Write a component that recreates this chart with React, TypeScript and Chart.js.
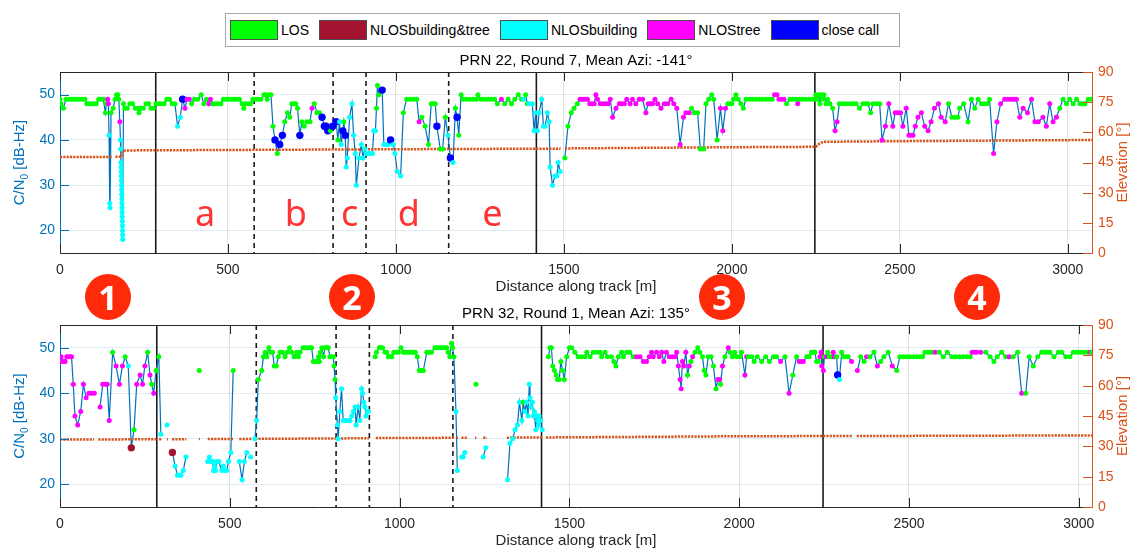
import React, { useEffect, useRef } from 'react';
import { Chart, registerables } from 'chart.js';

Chart.register(...registerables);

type Pt = [number, number | null, string];
type EPt = [number, number | null];

const FONT = "'Liberation Sans', Arial, Helvetica, sans-serif";
const BLUE = '#0072BD';
const ORANGE = '#D95319';

// ---- categories ----
const classCodes = ['L', 'R', 'B', 'T', 'C'];
const classNames = ['LOS', 'NLOSbuilding&tree', 'NLOSbuilding', 'NLOStree', 'close call'];
const classColors = ['#00FF00', '#A2142F', '#00FFFF', '#FF00FF', '#0000FF'];

// ---- ticks ----
const xTickValues = [0, 500, 1000, 1500, 2000, 2500, 3000];
const cn0TickValues = [20, 30, 40, 50];
const elevTickValues = [0, 15, 30, 45, 60, 75, 90];

// ---- track segment boundaries (m) ----
const solidBounds = [285, 1418, 2247];
const dashedBounds = [578, 813, 911, 1157];
const segmentLetters = ['a', 'b', 'c', 'd', 'e'];
const segmentLetterDist = [432, 702, 862, 1038, 1287];
const zoneNumbers = ['1', '2', '3', '4'];

const prn22Title = 'PRN 22, Round 7, Mean Azi: -141°';
const prn32Title = 'PRN 32, Round 1, Mean Azi: 135°';

// ---- PRN 22: distance [m], C/N0 [dB-Hz], class ----
const prn22Cn0: Pt[] = [
  [0,49,'L'],[3,48,'L'],[10,47,'L'],[18,49,'L'],[26,49,'L'],[34,49,'L'],[42,49,'L'],[50,49,'L'],[58,49,'L'],[66,49,'L'],[74,49,'L'],
  [80,48,'L'],[87,48,'L'],[94,48,'L'],[101,48,'L'],[108,48,'L'],[115,49,'L'],[122,49,'L'],[129,49,'L'],[135,46,'L'],[138,48,'L'],
  [142,49,'T'],[144,48,'T'],[146,41,'B'],[148,26,'B'],[149,25,'B'],[152,46,'L'],[158,47,'L'],[164,49,'L'],[168,50,'L'],[172,50,'L'],
  [175,49,'L'],[178,44,'T'],[180,40,'B'],[181,38,'B'],[181.5,35,'B'],[182,34,'B'],[182.3,33,'B'],[182.6,32,'B'],[182.9,31,'B'],
  [183.2,30,'B'],[183.5,29,'B'],[183.8,28,'B'],[184.1,27,'B'],[184.4,26,'B'],[184.7,25,'B'],[185,24,'B'],[185.3,23,'B'],
  [185.6,22,'B'],[185.9,21,'B'],[186.2,20,'B'],[186.5,19,'B'],[186.8,18,'B'],[189,48,'L'],[193,47,'L'],[200,47,'L'],[208,48,'L'],
  [216,48,'L'],[224,47,'L'],[231,47,'L'],[235,46,'L'],[240,47,'L'],[248,47,'L'],[256,48,'L'],[264,48,'L'],[271,47,'L'],[278,47,'L'],
  [286,48,'L'],[294,48,'L'],[302,48,'L'],[310,48,'L'],[318,49,'L'],[326,49,'L'],[334,48,'L'],[342,48,'L'],[350,43,'B'],[358,45,'B'],
  [365,49,'C'],[372,47,'T'],[378,49,'T'],[385,49,'T'],[392,48,'L'],[400,49,'L'],[410,49,'L'],[420,50,'L'],[428,48,'L'],[436,49,'L'],
  [443,48,'T'],[448,49,'T'],[455,48,'L'],[463,48,'L'],[471,48,'L'],[479,48,'L'],[486,49,'L'],[494,49,'L'],[502,49,'L'],[510,49,'L'],
  [518,49,'L'],[526,49,'L'],[534,49,'L'],[542,48,'L'],[547,47,'L'],[552,48,'L'],[560,48,'L'],[567,48,'L'],[574,49,'L'],[582,49,'L'],
  [590,49,'L'],[598,49,'L'],[607,50,'L'],[612,50,'L'],[617,49,'L'],[622,50,'L'],[628,50,'L'],[634,43,'L'],[640,40,'C'],[647,37,'L'],
  [654,39,'C'],[662,41,'C'],[669,44,'L'],[677,46,'L'],[684,45,'L'],[690,48,'L'],[696,48,'L'],[702,48,'L'],[707,47,'L'],[714,41,'C'],
  [720,44,'L'],[727,43,'L'],[735,44,'L'],[744,44,'L'],[750,47,'T'],[757,48,'L'],[765,46,'L'],[772,46,'L'],[780,45,'C'],[787,43,'C'],
  [792,43,'C'],[797,42,'C'],[805,42,'L'],[812,43,'C'],[822,44,'C'],[827,40,'L'],[832,44,'B'],[837,39,'B'],[842,42,'C'],[845,44,'L'],
  [849,41,'C'],[852,34,'B'],[855,36,'B'],[862,45,'B'],[869,48,'B'],[874,41,'B'],[879,37,'B'],[882,30,'B'],[890,36,'B'],[897,39,'B'],
  [902,36,'B'],[907,38,'B'],[912,37,'B'],[918,37,'B'],[924,37,'B'],[930,37,'B'],[934,42,'B'],[939,42,'B'],[942,47,'L'],[945,52,'L'],
  [949,50,'L'],[959,51,'C'],[964,39,'B'],[972,39,'B'],[977,39,'B'],[984,40,'C'],[992,39,'B'],[997,37,'B'],[1004,33,'B'],[1014,32,'B'],
  [1022,46,'L'],[1032,49,'L'],[1042,49,'L'],[1052,49,'L'],[1062,49,'L'],[1069,44,'T'],[1077,45,'L'],[1087,43,'L'],[1097,39,'L'],
  [1105,48,'L'],[1111,48,'L'],[1117,48,'L'],[1122,43,'C'],[1132,38,'L'],[1139,38,'L'],[1147,45,'L'],[1155,41,'B'],[1162,36,'C'],
  [1170,35,'B'],[1177,47,'L'],[1182,45,'C'],[1187,41,'L'],[1194,50,'L'],[1200,49,'L'],[1210,49,'L'],[1220,49,'L'],[1230,49,'L'],
  [1240,49,'L'],[1244,50,'L'],[1254,49,'L'],[1264,49,'L'],[1274,49,'L'],[1284,49,'L'],[1294,49,'L'],[1302,48,'L'],[1314,49,'T'],
  [1324,48,'L'],[1334,49,'L'],[1344,48,'L'],[1354,49,'L'],[1364,50,'L'],[1374,49,'L'],[1380,49,'B'],[1386,50,'L'],[1391,48,'L'],
  [1396,48,'B'],[1406,48,'B'],[1411,42,'B'],[1416,46,'B'],[1421,42,'B'],[1426,46,'B'],[1434,49,'B'],[1439,43,'B'],[1444,43,'B'],
  [1451,46,'B'],[1456,44,'B'],[1459,34,'B'],[1466,30,'B'],[1473,32,'B'],[1479,32,'B'],[1483,35,'B'],[1489,33,'B'],[1496,null,''],
  [1503,36,'L'],[1512,43,'L'],[1522,46,'L'],[1530,47,'L'],[1540,48,'L'],[1548,49,'T'],[1555,49,'T'],[1562,49,'T'],[1570,49,'T'],
  [1577,48,'T'],[1584,48,'T'],[1590,48,'T'],[1595,50,'T'],[1600,49,'T'],[1608,48,'T'],[1616,48,'T'],[1624,48,'T'],[1632,48,'T'],
  [1638,49,'T'],[1645,45,'T'],[1655,47,'T'],[1665,48,'T'],[1672,48,'T'],[1680,48,'T'],[1687,49,'T'],[1697,48,'T'],[1704,49,'T'],
  [1714,48,'T'],[1724,49,'T'],[1734,49,'T'],[1744,46,'T'],[1751,48,'T'],[1758,48,'T'],[1764,48,'T'],[1771,49,'T'],[1779,48,'T'],
  [1789,47,'T'],[1799,48,'T'],[1809,48,'T'],[1819,49,'T'],[1827,48,'T'],[1836,47,'T'],[1846,39,'T'],[1856,45,'T'],[1863,46,'T'],
  [1873,46,'T'],[1880,47,'L'],[1888,46,'L'],[1898,46,'L'],[1906,38,'L'],[1916,38,'L'],[1923,48,'L'],[1931,49,'L'],[1940,50,'L'],
  [1946,49,'L'],[1956,40,'L'],[1966,47,'T'],[1973,42,'T'],[1981,47,'T'],[1988,48,'L'],[1994,48,'L'],[2000,48,'L'],[2005,49,'L'],
  [2012,50,'L'],[2019,49,'L'],[2027,48,'L'],[2034,47,'L'],[2042,49,'L'],[2052,49,'L'],[2062,49,'L'],[2072,49,'L'],[2082,49,'L'],
  [2092,49,'L'],[2102,49,'L'],[2112,49,'L'],[2120,49,'L'],[2127,50,'T'],[2134,50,'T'],[2140,49,'T'],[2147,49,'T'],[2155,49,'T'],
  [2163,48,'L'],[2173,49,'L'],[2182,49,'L'],[2191,49,'L'],[2196,48,'T'],[2201,49,'L'],[2210,49,'L'],[2220,49,'L'],[2230,49,'L'],
  [2240,49,'L'],[2246,49,'L'],[2250,50,'L'],[2254,49,'L'],[2258,50,'L'],[2262,48,'L'],[2266,50,'L'],[2270,49,'L'],[2274,50,'L'],
  [2280,48,'L'],[2285,49,'L'],[2292,48,'L'],[2300,47,'L'],[2307,42,'T'],[2313,44,'T'],[2320,48,'L'],[2330,48,'L'],[2340,48,'L'],
  [2350,48,'L'],[2360,48,'L'],[2370,48,'L'],[2380,47,'L'],[2390,48,'L'],[2398,48,'L'],[2405,48,'L'],[2413,46,'L'],[2420,48,'L'],
  [2430,48,'L'],[2440,48,'L'],[2447,40,'T'],[2457,43,'T'],[2467,48,'T'],[2479,43,'T'],[2486,46,'T'],[2494,46,'T'],[2502,46,'T'],
  [2509,43,'T'],[2519,47,'T'],[2527,41,'T'],[2533,41,'T'],[2539,41,'T'],[2546,43,'T'],[2554,45,'T'],[2564,46,'T'],[2574,43,'T'],
  [2584,42,'T'],[2593,44,'T'],[2603,47,'T'],[2615,48,'T'],[2623,45,'T'],[2635,44,'T'],[2645,48,'L'],[2655,45,'L'],[2664,45,'L'],
  [2673,45,'L'],[2678,47,'L'],[2690,48,'L'],[2703,44,'L'],[2713,49,'L'],[2723,47,'L'],[2733,49,'L'],[2743,48,'L'],[2752,48,'L'],
  [2760,48,'L'],[2767,49,'L'],[2779,37,'T'],[2789,44,'T'],[2800,48,'T'],[2812,49,'T'],[2822,49,'T'],[2832,49,'T'],[2840,49,'T'],
  [2847,49,'T'],[2857,45,'T'],[2867,47,'T'],[2880,46,'T'],[2892,49,'T'],[2902,44,'T'],[2912,44,'T'],[2926,45,'T'],[2936,43,'T'],
  [2946,48,'T'],[2956,44,'T'],[2966,45,'T'],[2976,47,'L'],[2986,49,'L'],[2996,48,'L'],[3006,49,'L'],[3016,48,'L'],[3026,49,'L'],
  [3036,48,'L'],[3044,48,'L'],[3051,48,'L'],[3061,49,'L'],[3071,49,'L'],
];

// ---- PRN 22 elevation [deg] ----
const prn22Elev: EPt[] = [
  [0,47.7],[155,47.8],[160,null],[165,47.8],[184,47.9],[188,51.0],[600,51.3],[1000,51.6],[1490,51.9],[1496,null],
  [1503,52.0],[2000,52.6],[2250,52.8],[2260,54.3],[2272,55.3],[2500,55.6],[3072,56.2],
];

// ---- PRN 32: distance [m], C/N0 [dB-Hz], class ----
const prn32Cn0: Pt[] = [
  [3,48,'T'],[7,47,'T'],[10,47,'T'],[15,47,'T'],[20,48,'T'],[25,48,'T'],[30,48,'T'],[34,48,'T'],[39,42,'T'],[44,35,'T'],[52,33,'T'],
  [61,36,'T'],[69,42,'T'],[77,39,'T'],[85,40,'T'],[93,40,'T'],[101,40,'T'],[110,null,''],[118,37,'T'],[126,42,'T'],[133,42,'T'],
  [139,42,'T'],[145,34,'T'],[155,49,'L'],[165,46,'T'],[175,42,'T'],[184,46,'T'],[192,48,'L'],[201,46,'B'],[210,28,'R'],[218,32,'L'],
  [226,42,'T'],[236,44,'T'],[243,42,'T'],[250,46,'T'],[258,49,'L'],[265,44,'T'],[270,42,'L'],[276,40,'T'],[283,45,'L'],[291,48,'L'],
  [297,31,'B'],[305,null,''],[315,33,'B'],[323,null,''],[331,27,'R'],[339,24,'B'],[346,22,'B'],[352,22,'B'],[356,22,'B'],[363,23,'B'],
  [371,26,'B'],[390,null,''],[410,45,'L'],[420,null,''],[435,25,'B'],[440,26,'B'],[445,25,'B'],[450,25,'B'],[452,23,'B'],[455,24,'B'],
  [458,23,'B'],[462,25,'B'],[468,25,'B'],[476,23,'B'],[481,24,'B'],[486,23,'B'],[491,23,'B'],[496,25,'B'],[503,27,'B'],[510,45,'L'],
  [518,null,''],[528,25,'B'],[536,21,'B'],[543,25,'B'],[550,27,'B'],[555,null,''],[561,26,'B'],[568,null,''],[574,30,'B'],[579,34,'B'],
  [584,43,'L'],[594,45,'L'],[599,48,'L'],[604,49,'L'],[609,48,'L'],[615,50,'L'],[621,49,'L'],[626,49,'L'],[631,46,'L'],[637,46,'L'],
  [643,48,'L'],[648,49,'L'],[655,49,'L'],[663,48,'L'],[669,49,'L'],[676,50,'L'],[682,49,'L'],[690,48,'L'],[697,49,'L'],[702,48,'L'],
  [707,49,'L'],[716,50,'L'],[722,50,'L'],[729,50,'L'],[735,50,'L'],[741,50,'L'],[746,47,'L'],[751,47,'L'],[756,47,'L'],[761,48,'L'],
  [764,47,'L'],[767,49,'L'],[771,50,'L'],[776,48,'L'],[780,50,'L'],[785,50,'L'],[790,50,'L'],[795,48,'L'],[801,48,'L'],[805,48,'L'],
  [807,46,'L'],[810,43,'L'],[812,39,'B'],[817,33,'B'],[819,30,'B'],[824,36,'B'],[829,41,'B'],[834,34,'B'],[839,34,'B'],[844,34,'B'],
  [849,34,'B'],[854,34,'B'],[859,35,'B'],[864,36,'B'],[869,37,'B'],[872,33,'B'],[878,37,'B'],[883,34,'B'],[888,41,'B'],[891,40,'B'],
  [895,38,'B'],[898,37,'B'],[901,35,'B'],[905,36,'B'],[908,36,'B'],[916,null,''],[928,48,'L'],[932,49,'L'],[940,50,'L'],[945,50,'L'],
  [950,50,'L'],[957,49,'L'],[962,49,'L'],[967,48,'L'],[972,48,'L'],[977,48,'L'],[983,49,'L'],[989,49,'L'],[996,49,'L'],[1004,50,'L'],
  [1011,49,'L'],[1018,49,'L'],[1025,49,'L'],[1032,49,'L'],[1040,49,'L'],[1046,49,'L'],[1052,48,'L'],[1058,45,'L'],[1064,45,'L'],
  [1070,45,'L'],[1080,49,'L'],[1087,49,'L'],[1094,49,'L'],[1104,50,'L'],[1110,50,'L'],[1116,50,'L'],[1122,50,'L'],[1128,50,'L'],
  [1134,50,'L'],[1139,50,'L'],[1143,49,'L'],[1148,48,'L'],[1153,51,'L'],[1156,50,'L'],[1160,48,'L'],[1166,36,'B'],[1170,23,'B'],
  [1176,null,''],[1183,26,'B'],[1187,26,'B'],[1192,27,'B'],[1200,null,''],[1225,42,'L'],[1235,null,''],[1246,26,'B'],[1254,28,'B'],
  [1290,null,''],[1318,21,'B'],[1325,29,'B'],[1333,30,'B'],[1340,32,'B'],[1347,33,'B'],[1353,38,'B'],[1360,34,'B'],[1364,38,'L'],
  [1369,36,'B'],[1374,38,'B'],[1378,35,'B'],[1382,42,'B'],[1384,39,'B'],[1387,37,'B'],[1391,38,'B'],[1394,35,'B'],[1397,36,'B'],
  [1401,32,'B'],[1404,35,'B'],[1407,34,'B'],[1409,33,'B'],[1411,35,'B'],[1415,34,'B'],[1420,32,'B'],[1428,null,''],[1438,48,'L'],
  [1443,50,'L'],[1447,50,'L'],[1451,46,'L'],[1456,45,'L'],[1461,44,'L'],[1465,43,'L'],[1470,43,'L'],[1475,47,'L'],[1480,45,'L'],
  [1485,43,'L'],[1492,48,'L'],[1500,50,'L'],[1507,50,'L'],[1516,49,'L'],[1526,48,'L'],[1536,48,'L'],[1546,48,'L'],[1551,49,'L'],
  [1561,48,'L'],[1570,49,'L'],[1580,49,'L'],[1590,49,'L'],[1595,48,'L'],[1605,49,'L'],[1612,48,'L'],[1624,48,'L'],[1631,47,'L'],
  [1637,46,'L'],[1644,48,'L'],[1654,49,'L'],[1659,48,'L'],[1669,49,'L'],[1678,49,'L'],[1688,48,'L'],[1698,48,'T'],[1708,48,'T'],
  [1718,47,'T'],[1727,47,'T'],[1735,48,'T'],[1742,49,'T'],[1747,48,'T'],[1757,49,'T'],[1765,48,'T'],[1772,49,'T'],[1778,47,'T'],
  [1786,49,'T'],[1794,48,'T'],[1803,48,'T'],[1811,48,'T'],[1816,49,'T'],[1821,46,'T'],[1826,43,'T'],[1829,41,'T'],[1833,47,'T'],
  [1837,46,'T'],[1843,49,'T'],[1848,44,'L'],[1853,46,'T'],[1858,47,'L'],[1863,48,'T'],[1870,49,'L'],[1878,50,'L'],[1884,49,'L'],
  [1892,48,'L'],[1897,45,'L'],[1902,44,'L'],[1909,48,'L'],[1917,48,'L'],[1924,46,'L'],[1932,41,'L'],[1937,43,'T'],[1942,43,'T'],
  [1945,42,'L'],[1951,46,'T'],[1958,48,'L'],[1968,50,'T'],[1973,49,'L'],[1980,48,'L'],[1987,49,'L'],[1993,48,'L'],[2002,48,'L'],
  [2007,49,'L'],[2017,44,'T'],[2022,48,'T'],[2027,48,'L'],[2037,48,'L'],[2044,47,'L'],[2053,48,'L'],[2066,47,'L'],[2078,48,'L'],
  [2089,47,'L'],[2101,48,'L'],[2110,48,'L'],[2122,47,'T'],[2135,48,'L'],[2147,40,'T'],[2158,44,'L'],[2169,48,'L'],[2177,47,'T'],
  [2183,47,'T'],[2189,47,'T'],[2199,48,'L'],[2206,48,'L'],[2213,49,'L'],[2218,49,'L'],[2223,49,'L'],[2228,47,'L'],[2233,47,'L'],
  [2238,48,'T'],[2241,49,'T'],[2243,46,'T'],[2248,45,'T'],[2251,48,'L'],[2256,48,'T'],[2261,49,'L'],[2265,48,'L'],[2272,48,'L'],
  [2277,49,'T'],[2280,48,'T'],[2287,48,'L'],[2290,44,'C'],[2295,43,'B'],[2302,49,'L'],[2307,48,'L'],[2314,48,'L'],[2321,48,'L'],
  [2331,47,'T'],[2340,null,''],[2348,45,'T'],[2358,48,'L'],[2368,47,'L'],[2375,48,'T'],[2385,48,'L'],[2397,49,'L'],[2407,46,'T'],
  [2417,47,'L'],[2426,48,'L'],[2439,49,'L'],[2451,46,'T'],[2464,45,'L'],[2473,48,'L'],[2483,48,'L'],[2493,48,'L'],[2503,48,'L'],
  [2513,48,'L'],[2523,48,'L'],[2533,48,'L'],[2540,48,'L'],[2547,49,'L'],[2557,49,'L'],[2567,49,'L'],[2577,49,'T'],[2589,49,'L'],
  [2601,48,'L'],[2613,49,'L'],[2626,48,'L'],[2637,48,'L'],[2648,48,'L'],[2659,48,'L'],[2670,48,'L'],[2680,48,'L'],[2686,49,'T'],
  [2693,49,'T'],[2699,49,'T'],[2711,49,'T'],[2726,49,'L'],[2739,48,'L'],[2750,47,'L'],[2760,48,'L'],[2773,49,'L'],[2785,48,'L'],
  [2795,48,'T'],[2807,48,'L'],[2820,49,'L'],[2832,40,'T'],[2844,40,'L'],[2854,48,'L'],[2866,46,'L'],[2879,48,'L'],[2891,49,'L'],
  [2900,49,'L'],[2908,49,'L'],[2915,49,'L'],[2927,48,'L'],[2940,49,'L'],[2950,49,'L'],[2962,48,'L'],[2974,48,'L'],[2984,49,'L'],
  [2994,49,'L'],[3004,49,'L'],[3014,49,'L'],[3024,49,'L'],[3033,49,'T'],[3038,49,'L'],
];

// ---- PRN 32 elevation [deg] ----
const prn32Elev: EPt[] = [
  [0,33.4],[100,33.4],[106,null],[113,33.4],[285,33.5],[288,null],[292,33.5],[300,33.5],[306,null],[315,33.5],[318,33.5],[324,null],
  [330,33.5],[372,33.5],[390,null],[409,33.6],[412,33.6],[420,null],[435,33.6],[512,33.6],[520,null],[528,33.6],[566,33.7],[570,null],
  [575,33.7],[910,34.0],[920,null],[930,34.1],[1162,34.2],[1164,null],[1167,34.2],[1172,34.2],[1176,null],[1182,34.2],[1198,34.2],
  [1210,null],[1222,34.2],[1226,34.2],[1235,null],[1246,34.2],[1257,34.2],[1290,null],[1316,34.3],[1422,34.4],[1426,null],
  [1431,34.4],[2000,35.0],[2334,35.1],[2340,null],[2346,35.1],[3040,35.4],
];

const classIndex = (c: string) => classCodes.indexOf(c);

const panelDecor = {
  id: 'panelDecor',
  beforeDatasetsDraw(chart: any) {
    const { ctx, chartArea: a, scales } = chart;
    const x = scales.x;
    ctx.save();
    ctx.beginPath();
    ctx.rect(a.left, a.top, a.right - a.left, a.bottom - a.top);
    ctx.clip();
    ctx.strokeStyle = '#1a1a1a';
    ctx.lineWidth = 1.6;
    solidBounds.forEach((d) => {
      const px = x.getPixelForValue(d);
      ctx.beginPath();
      ctx.moveTo(px, a.top);
      ctx.lineTo(px, a.bottom);
      ctx.stroke();
    });
    ctx.setLineDash([5, 4]);
    dashedBounds.forEach((d) => {
      const px = x.getPixelForValue(d);
      ctx.beginPath();
      ctx.moveTo(px, a.top);
      ctx.lineTo(px, a.bottom);
      ctx.stroke();
    });
    ctx.restore();
  },
  afterDraw(chart: any, _args: any, opts: any) {
    const { ctx, chartArea: a, scales } = chart;
    const { x, yL, yR } = scales;
    const TL = 9;
    ctx.save();
    ctx.strokeStyle = '#262626';
    ctx.lineWidth = 1;
    ctx.beginPath();
    ctx.moveTo(a.left, a.top + 0.5);
    ctx.lineTo(a.right, a.top + 0.5);
    ctx.stroke();
    x.ticks.forEach((t: any) => {
      const px = Math.round(x.getPixelForValue(t.value)) + 0.5;
      ctx.beginPath();
      ctx.moveTo(px, a.bottom);
      ctx.lineTo(px, a.bottom - TL);
      ctx.moveTo(px, a.top);
      ctx.lineTo(px, a.top + TL);
      ctx.stroke();
    });
    ctx.strokeStyle = BLUE;
    yL.ticks.forEach((t: any) => {
      const py = Math.round(yL.getPixelForValue(t.value)) + 0.5;
      ctx.beginPath();
      ctx.moveTo(a.left, py);
      ctx.lineTo(a.left + TL, py);
      ctx.stroke();
    });
    ctx.strokeStyle = ORANGE;
    yR.ticks.forEach((t: any) => {
      const py = Math.round(yR.getPixelForValue(t.value)) + 0.5;
      ctx.beginPath();
      ctx.moveTo(a.right - TL, py);
      ctx.lineTo(a.right, py);
      ctx.stroke();
    });
    const midX = (a.left + a.right) / 2;
    const midY = (a.top + a.bottom) / 2;
    ctx.fillStyle = '#000';
    ctx.font = `15px ${FONT}`;
    ctx.textAlign = 'center';
    ctx.textBaseline = 'middle';
    ctx.fillText(opts.title, midX, a.top - 11);
    ctx.fillStyle = '#262626';
    ctx.fillText('Distance along track [m]', midX, a.bottom + 34);
    ctx.save();
    ctx.translate(20, midY);
    ctx.rotate(-Math.PI / 2);
    ctx.fillStyle = BLUE;
    ctx.textAlign = 'left';
    ctx.font = `15px ${FONT}`;
    const p1 = 'C/N';
    const p3 = ' [dB-Hz]';
    const w1 = ctx.measureText(p1).width;
    const w3 = ctx.measureText(p3).width;
    ctx.font = `10px ${FONT}`;
    const w2 = ctx.measureText('0').width;
    const start = -(w1 + w2 + w3) / 2;
    ctx.font = `15px ${FONT}`;
    ctx.fillText(p1, start, 0);
    ctx.font = `10px ${FONT}`;
    ctx.fillText('0', start + w1, 5);
    ctx.font = `15px ${FONT}`;
    ctx.fillText(p3, start + w1 + w2, 0);
    ctx.restore();
    ctx.save();
    ctx.translate(1123, midY);
    ctx.rotate(-Math.PI / 2);
    ctx.fillStyle = ORANGE;
    ctx.textAlign = 'center';
    ctx.font = `15px ${FONT}`;
    ctx.fillText('Elevation [°]', 0, 0);
    ctx.restore();
    if (opts.letters) {
      ctx.fillStyle = '#FF3333';
      ctx.font = `36px 'Noto Sans', sans-serif`;
      ctx.textAlign = 'center';
      ctx.textBaseline = 'alphabetic';
      segmentLetters.forEach((s, i) => {
        ctx.fillText(s, x.getPixelForValue(segmentLetterDist[i]), yL.getPixelForValue(21));
      });
    }
    ctx.restore();
  },
};

interface PanelProps {
  points: Pt[];
  elev: EPt[];
  xMax: number;
  title: string;
  letters: boolean;
  top: number;
  height: number;
  areaTop: number;
  areaBottom: number;
}

function Panel({ points, elev, xMax, title, letters, top, height, areaTop, areaBottom }: PanelProps) {
  const ref = useRef<HTMLCanvasElement | null>(null);
  useEffect(() => {
    const canvas = ref.current;
    if (!canvas) return;
    const markers = points.filter((p) => p[1] !== null);
    const tickFont = { family: FONT, size: 14 };
    const chart = new Chart(canvas, {
      type: 'line',
      data: {
        datasets: [
          {
            data: markers.map((p) => ({ x: p[0], y: p[1] })),
            showLine: false,
            borderWidth: 0,
            pointRadius: markers.map((p) => (p[2] === 'C' || p[2] === 'R' ? 3.7 : 2.5)),
            pointBackgroundColor: markers.map((p) => classColors[classIndex(p[2])]),
            pointBorderWidth: 0,
            yAxisID: 'yL',
            order: 1,
          },
          {
            data: elev.map((p) => ({ x: p[0], y: p[1] })),
            borderColor: ORANGE,
            borderWidth: 2.5,
            borderDash: [2.2, 1.1],
            pointRadius: 0,
            spanGaps: false,
            yAxisID: 'yR',
            order: 2,
          },
          {
            data: points.map((p) => ({ x: p[0], y: p[1] })),
            borderColor: BLUE,
            borderWidth: 1.2,
            pointRadius: 0,
            spanGaps: false,
            yAxisID: 'yL',
            order: 3,
          },
        ] as any,
      },
      options: {
        responsive: false,
        animation: false,
        events: [],
        layout: { padding: { top: areaTop, left: 0, right: 0, bottom: 0 } },
        plugins: {
          legend: { display: false },
          tooltip: { enabled: false },
          panelDecor: { title, letters },
        } as any,
        scales: {
          x: {
            type: 'linear',
            min: 0,
            max: xMax,
            afterBuildTicks: (s: any) => {
              s.ticks = xTickValues.map((v) => ({ value: v }));
            },
            afterFit: (s: any) => {
              s.height = height - areaBottom;
            },
            ticks: {
              color: '#262626',
              font: tickFont,
              padding: 9,
              maxRotation: 0,
              autoSkip: false,
              callback: (v: any) => String(v),
            },
            grid: { color: 'rgba(38,38,38,0.14)', drawTicks: false },
            border: { color: '#262626', width: 1 },
          },
          yL: {
            type: 'linear',
            position: 'left',
            min: 15,
            max: 55,
            afterBuildTicks: (s: any) => {
              s.ticks = cn0TickValues.map((v) => ({ value: v }));
            },
            afterFit: (s: any) => {
              s.width = 60;
            },
            ticks: { color: BLUE, font: tickFont, padding: 5, callback: (v: any) => String(v) },
            grid: { color: 'rgba(0,114,189,0.13)', drawTicks: false },
            border: { color: BLUE, width: 1 },
          },
          yR: {
            type: 'linear',
            position: 'right',
            min: 0,
            max: 90,
            afterBuildTicks: (s: any) => {
              s.ticks = elevTickValues.map((v) => ({ value: v }));
            },
            afterFit: (s: any) => {
              s.width = 44;
            },
            ticks: { color: ORANGE, font: tickFont, padding: 6, callback: (v: any) => String(v) },
            grid: { drawOnChartArea: false, drawTicks: false },
            border: { color: ORANGE, width: 1 },
          },
        } as any,
      },
      plugins: [panelDecor as any],
    } as any);
    return () => chart.destroy();
  }, []);
  return (
    <canvas
      ref={ref}
      width={1136}
      height={height}
      style={{ position: 'absolute', left: 0, top, width: 1136, height }}
    />
  );
}

const badgeCenters = [108, 352, 722, 977];

export default function App() {
  return (
    <div style={{ position: 'absolute', left: 0, top: 0, width: 1136, height: 551, background: '#fff', overflow: 'hidden' }}>
      <Panel points={prn22Cn0} elev={prn22Elev} xMax={3072} title={prn22Title} letters={true} top={0} height={300} areaTop={72} areaBottom={253} />
      <Panel points={prn32Cn0} elev={prn32Elev} xMax={3039} title={prn32Title} letters={false} top={300} height={251} areaTop={25} areaBottom={207} />
      <div
        style={{
          position: 'absolute',
          left: 225,
          top: 13,
          width: 675,
          height: 34,
          boxSizing: 'border-box',
          border: '1px solid #a6a6a6',
          background: '#fff',
          display: 'flex',
          alignItems: 'center',
          paddingLeft: 4,
          gap: 10,
          font: `14px ${FONT}`,
          color: '#000',
        }}
      >
        {classNames.map((n, i) => (
          <div key={n} style={{ display: 'flex', alignItems: 'center', gap: 3 }}>
            <span
              style={{
                display: 'inline-block',
                width: 48,
                height: 20,
                boxSizing: 'border-box',
                background: classColors[i],
                border: '1px solid #4d4d4d',
              }}
            />
            <span>{n}</span>
          </div>
        ))}
      </div>
      {zoneNumbers.map((z, i) => (
        <div
          key={z}
          style={{
            position: 'absolute',
            left: badgeCenters[i] - 23,
            top: 297 - 23,
            width: 46,
            height: 46,
            borderRadius: '50%',
            background: '#FF2A0A',
            color: '#fff',
            display: 'flex',
            alignItems: 'center',
            justifyContent: 'center',
            font: `bold 34px 'Noto Sans', sans-serif`,
            lineHeight: '46px',
          }}
        >
          {z}
        </div>
      ))}
    </div>
  );
}
